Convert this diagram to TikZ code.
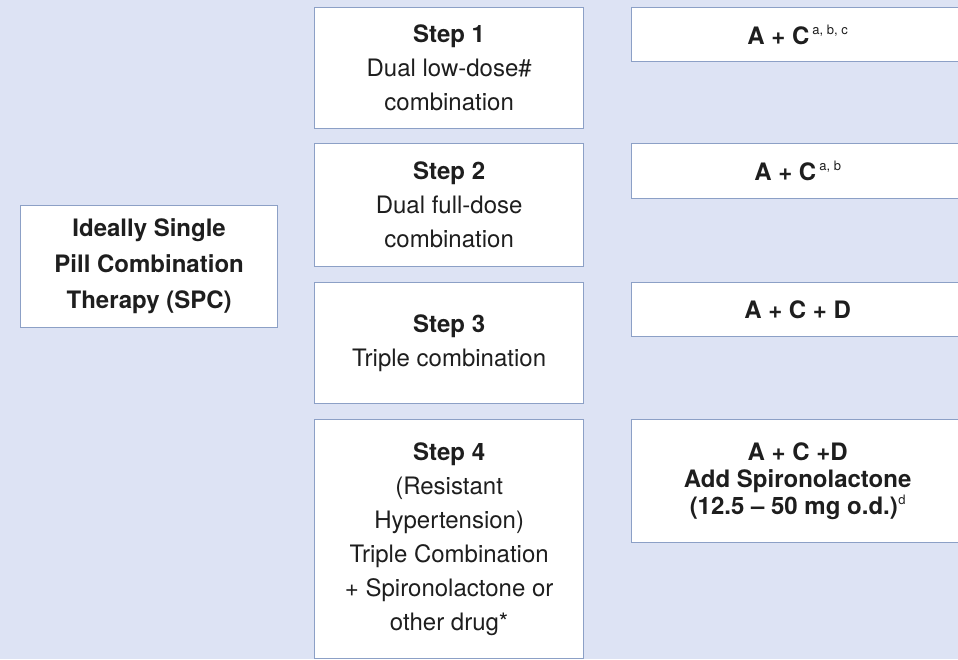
\documentclass[tikz,border=0pt]{standalone}
\usepackage{fontspec}
\setmainfont{TeX Gyre Heros}
\usepackage{tikz}
\definecolor{nenxanh}{RGB}{221,227,244}
\definecolor{vienhop}{RGB}{140,160,198}
\definecolor{chudam}{RGB}{30,30,30}
\newcommand{\supnote}[2][3pt]{\hspace{#1}\raisebox{10pt}{\fontsize{13}{13}\selectfont\mdseries #2}}

\begin{document}
\begin{tikzpicture}[x=1pt, y=-1pt, text=chudam, node font=\fontsize{24}{34}\selectfont,
		hop/.style={draw=vienhop, line width=1.3pt, fill=white, inner sep=0pt, align=center, anchor=north west},
		buoc/.style={hop, minimum width=269pt},
		thuoc/.style={hop, minimum width=332pt, font=\bfseries}]
			\useasboundingbox (0,0) rectangle (958,659);
			\clip (0,0) rectangle (958,659);
			\fill[nenxanh] (0,0) rectangle (958,659);
			
			\node[hop, minimum width=257pt, minimum height=122pt, font=\bfseries\fontsize{24}{36}\selectfont] (spc) at (20,205) {Ideally Single\\Pill Combination\\Therapy (SPC)};
			
			\node[buoc, minimum height=121pt] (buoc1) at (314,7) {\textbf{Step 1}\\Dual low-dose\#\\combination};
			\node[buoc, minimum height=123pt] (buoc2) at (314,143) {\textbf{Step 2}\\Dual full-dose\\combination};
			\node[buoc, minimum height=121pt] (buoc3) at (314,282) {\textbf{Step 3}\\Triple combination};
			\node[buoc, minimum height=239pt] (buoc4) at (314,419) {\textbf{Step 4}\\(Resistant\\Hypertension)\\Triple Combination\\+ Spironolactone or\\other drug*};
			
			\node[thuoc, minimum height=54pt] (thuoc1) at (631,7) {A + C\supnote{a, b, c}};
			\node[thuoc, minimum height=55pt] (thuoc2) at (631,143) {A + C\supnote{a, b}};
			\node[thuoc, minimum height=54pt] (thuoc3) at (631,282) {A + C + D};
			\node[thuoc, minimum height=123pt, font=\bfseries\fontsize{24}{27}\selectfont] (thuoc4) at (631,419) {A + C +D\\Add Spironolactone\\(12.5 -- 50 mg o.d.)\supnote[0.5pt]{d}};
		\end{tikzpicture}
\end{document}
